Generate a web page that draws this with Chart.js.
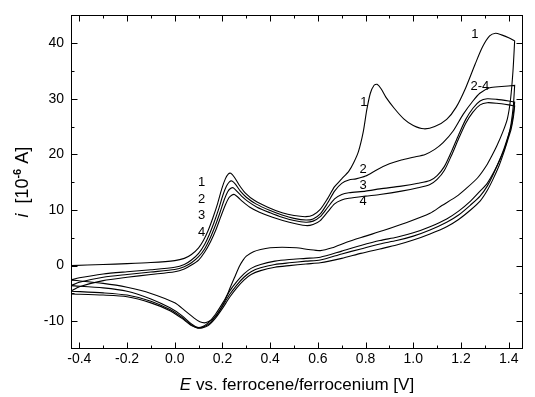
<!DOCTYPE html>
<html>
<head>
<meta charset="utf-8">
<script src="https://cdn.jsdelivr.net/npm/chart.js@4.4.0/dist/chart.umd.min.js"></script>
<style>
  html, body { margin: 0; padding: 0; background: #fff; }
  #wrap { width: 535px; height: 397px; }
</style>
</head>
<body>
<div id="wrap"><canvas id="cvChart" width="535" height="397"></canvas></div>
<script>
// potential (V vs Fc/Fc+) and current (10^-6 A)
const c1Fwd = [[-0.435,0.0],[-0.3,0.2],[-0.2,0.35],[-0.1,0.55],[0.0,0.9],[0.04,1.3],[0.07,2.0],[0.10,3.2],[0.12,4.5],[0.14,6.3],[0.16,8.6],[0.18,11.2],[0.197,13.8],[0.212,15.6],[0.225,16.5],[0.235,16.6],[0.25,15.9],[0.27,14.5],[0.295,13.1],[0.335,11.7],[0.39,10.5],[0.45,9.5],[0.50,9.0],[0.55,8.8],[0.58,9.1],[0.61,10.1],[0.64,12.0],[0.67,14.2],[0.70,15.6],[0.73,17.0],[0.75,18.5],[0.77,20.5],[0.79,24.0],[0.805,28.0],[0.82,31.0],[0.835,32.4],[0.848,32.6],[0.865,31.8],[0.885,30.3],[0.92,28.3],[0.96,26.4],[1.0,25.2],[1.045,24.6],[1.09,25.0],[1.14,26.3],[1.18,28.5],[1.22,32.0],[1.26,36.3],[1.29,39.3],[1.32,41.3],[1.345,41.8],[1.37,41.5],[1.40,41.0],[1.425,40.4]];
const c1Rev = [[1.425,40.4],[1.418,35],[1.408,30],[1.395,26.5],[1.375,24.0],[1.35,21.5],[1.33,19.8],[1.307,18.0],[1.27,15.8],[1.22,13.8],[1.18,12.4],[1.12,10.8],[1.07,9.4],[0.97,7.7],[0.874,6.3],[0.80,5.3],[0.72,4.2],[0.66,3.2],[0.61,2.7],[0.56,2.9],[0.51,3.2],[0.45,3.3],[0.40,3.2],[0.36,2.9],[0.33,2.5],[0.30,1.7],[0.285,0.9],[0.27,-0.2],[0.25,-2.2],[0.232,-4.0],[0.21,-6.3],[0.185,-8.3],[0.16,-9.6],[0.14,-10.1],[0.125,-10.3],[0.105,-10.1],[0.08,-9.4],[0.04,-8.0],[0.0,-6.7],[-0.1,-5.0],[-0.2,-3.9],[-0.3,-3.2],[-0.435,-2.6]];

const c2Fwd = [[-0.435,-2.6],[-0.4,-2.2],[-0.3,-1.5],[-0.2,-1.1],[-0.1,-0.75],[0.0,-0.3],[0.04,0.2],[0.07,1.0],[0.10,2.2],[0.125,3.8],[0.145,5.6],[0.165,7.8],[0.185,10.3],[0.202,12.7],[0.217,14.3],[0.23,15.1],[0.24,15.2],[0.255,14.6],[0.275,13.4],[0.30,12.3],[0.34,11.1],[0.40,9.9],[0.45,9.1],[0.50,8.5],[0.55,8.2],[0.58,8.4],[0.61,9.3],[0.64,11.2],[0.67,13.4],[0.70,14.8],[0.73,15.4],[0.76,15.6],[0.80,16.1],[0.85,17.3],[0.90,18.3],[0.95,19.0],[1.0,19.5],[1.05,20.0],[1.09,20.9],[1.125,22.1],[1.167,24.2],[1.209,27.2],[1.25,29.6],[1.279,31.0],[1.32,32.0],[1.37,32.2],[1.425,32.4]];
const c2Rev = [[1.425,32.4],[1.42,29],[1.41,25.5],[1.40,23.5],[1.385,21.3],[1.365,19.2],[1.34,17.0],[1.31,14.8],[1.28,13.4],[1.24,11.6],[1.19,9.8],[1.14,8.4],[1.07,7.0],[1.0,5.9],[0.93,5.1],[0.86,4.5],[0.78,3.6],[0.70,2.6],[0.61,1.5],[0.55,1.3],[0.48,1.1],[0.42,0.8],[0.36,0.2],[0.32,-0.5],[0.29,-1.5],[0.26,-2.9],[0.23,-4.6],[0.20,-6.8],[0.17,-8.8],[0.14,-10.3],[0.115,-11.0],[0.095,-11.1],[0.07,-10.5],[0.03,-9.0],[-0.02,-7.6],[-0.1,-6.0],[-0.2,-4.6],[-0.3,-4.0],[-0.435,-3.6]];

const c3Fwd = [[-0.435,-3.6],[-0.4,-3.0],[-0.3,-2.1],[-0.2,-1.6],[-0.1,-1.15],[0.0,-0.7],[0.04,-0.2],[0.07,0.5],[0.10,1.6],[0.125,3.0],[0.15,5.1],[0.17,7.2],[0.19,9.6],[0.207,11.8],[0.222,13.3],[0.235,13.9],[0.245,14.0],[0.26,13.4],[0.28,12.5],[0.305,11.6],[0.345,10.5],[0.40,9.5],[0.45,8.7],[0.50,8.1],[0.55,7.8],[0.58,8.0],[0.61,8.8],[0.64,10.4],[0.67,12.0],[0.70,12.8],[0.73,13.1],[0.80,13.4],[0.86,13.8],[0.95,14.3],[1.02,14.8],[1.07,15.3],[1.10,16.2],[1.13,17.8],[1.16,20.5],[1.19,23.5],[1.22,26.3],[1.25,28.3],[1.28,29.6],[1.31,30.0],[1.35,29.9],[1.40,29.6],[1.425,29.4]];
const c3Rev = [[1.425,29.4],[1.42,27.5],[1.41,25],[1.397,23.2],[1.38,21.0],[1.36,18.8],[1.335,16.4],[1.31,14.3],[1.28,12.5],[1.24,10.9],[1.19,9.1],[1.14,7.8],[1.07,6.4],[1.0,5.3],[0.93,4.5],[0.86,3.9],[0.78,3.0],[0.70,2.1],[0.61,1.0],[0.55,0.8],[0.48,0.5],[0.42,0.2],[0.36,-0.4],[0.32,-1.1],[0.29,-2.1],[0.26,-3.5],[0.23,-5.2],[0.20,-7.3],[0.17,-9.2],[0.14,-10.6],[0.115,-11.1],[0.095,-11.2],[0.07,-10.7],[0.03,-9.3],[-0.02,-7.9],[-0.1,-6.4],[-0.2,-5.3],[-0.3,-4.9],[-0.435,-4.6]];

const c4Fwd = [[-0.435,-4.6],[-0.4,-3.8],[-0.3,-2.7],[-0.2,-2.1],[-0.1,-1.6],[0.0,-1.1],[0.04,-0.6],[0.07,0.1],[0.10,1.0],[0.125,2.4],[0.15,4.3],[0.173,6.5],[0.193,8.8],[0.212,10.9],[0.227,12.2],[0.24,12.7],[0.25,12.8],[0.265,12.3],[0.285,11.5],[0.315,10.5],[0.355,9.6],[0.41,8.7],[0.48,7.8],[0.55,7.2],[0.58,7.4],[0.61,8.1],[0.64,9.6],[0.67,11.1],[0.70,11.8],[0.73,12.1],[0.80,12.5],[0.86,12.8],[0.95,13.4],[1.02,14.0],[1.07,14.6],[1.10,15.5],[1.13,17.1],[1.16,19.8],[1.19,22.8],[1.22,25.6],[1.25,27.6],[1.28,28.9],[1.31,29.3],[1.35,29.2],[1.40,28.9],[1.425,28.7]];
const c4Rev = [[1.425,28.7],[1.42,26.8],[1.41,24.5],[1.397,22.7],[1.38,20.4],[1.36,18.0],[1.335,15.6],[1.31,13.5],[1.28,11.6],[1.24,10.0],[1.19,8.3],[1.14,7.0],[1.07,5.7],[1.0,4.6],[0.93,3.7],[0.86,3.0],[0.78,2.2],[0.70,1.3],[0.61,0.5],[0.55,0.3],[0.48,0.0],[0.42,-0.3],[0.36,-0.9],[0.32,-1.6],[0.29,-2.6],[0.26,-4.0],[0.23,-5.7],[0.20,-7.7],[0.17,-9.5],[0.14,-10.8],[0.115,-11.2],[0.095,-11.2],[0.07,-10.8],[0.03,-9.5],[-0.02,-8.1],[-0.1,-6.7],[-0.2,-5.6],[-0.3,-5.3],[-0.435,-5.1]];

const xTicks = [-0.4, -0.2, 0.0, 0.2, 0.4, 0.6, 0.8, 1.0, 1.2, 1.4];
const yTicks = [-10, 0, 10, 20, 30, 40];

// cycle number labels, placed in data units
const noteText = ['1', '1', '2-4', '1', '2', '3', '4', '2', '3', '4'];
const noteE = [1.258, 0.793, 1.279, 0.113, 0.113, 0.113, 0.113, 0.79, 0.79, 0.79];
const noteI = [41.5, 29.3, 32.3, 14.9, 11.9, 9.0, 6.0, 17.3, 14.5, 11.5];

const FONT = '"Liberation Sans", Arial, sans-serif';

function toPts(fwd, rev) {
    return fwd.concat(rev).map(p => ({ x: p[0], y: p[1] }));
}

const cycles = [toPts(c1Fwd, c1Rev), toPts(c2Fwd, c2Rev), toPts(c3Fwd, c3Rev), toPts(c4Fwd, c4Rev)];

function drawRuns(ctx, runs, cx, baseY) {
    let total = 0;
    runs.forEach(r => { ctx.font = r.font; r.w = ctx.measureText(r.t).width; total += r.w; });
    let x = cx - total / 2;
    runs.forEach(r => {
        ctx.font = r.font;
        ctx.fillText(r.t, x, baseY + (r.dy || 0));
        x += r.w;
    });
}

const framePlugin = {
    id: 'frame',
    afterDraw(chart) {
        const { ctx, chartArea: a, scales } = chart;
        const sx = scales.x, sy = scales.y;
        ctx.save();
        ctx.strokeStyle = '#000';
        ctx.lineWidth = 1;
        const L = Math.round(a.left) + 0.5, R = Math.round(a.right) - 0.5;
        const T = Math.round(a.top) + 0.5, B = Math.round(a.bottom) - 0.5;
        ctx.strokeRect(L, T, R - L, B - T);

        ctx.beginPath();
        // x ticks, major + minor, bottom and top, pointing in
        for (let k = 0; k < xTicks.length; k++) {
            const px = Math.round(sx.getPixelForValue(xTicks[k])) + 0.5;
            ctx.moveTo(px, B); ctx.lineTo(px, B - 6);
            ctx.moveTo(px, T); ctx.lineTo(px, T + 6);
            if (k < xTicks.length - 1) {
                const mx = Math.round(sx.getPixelForValue((xTicks[k] + xTicks[k + 1]) / 2)) + 0.5;
                ctx.moveTo(mx, B); ctx.lineTo(mx, B - 3);
                ctx.moveTo(mx, T); ctx.lineTo(mx, T + 3);
            }
        }
        const yMinor = [-5, 5, 15, 25, 35];
        yTicks.forEach(v => {
            const py = Math.round(sy.getPixelForValue(v)) + 0.5;
            ctx.moveTo(L, py); ctx.lineTo(L + 6, py);
            ctx.moveTo(R, py); ctx.lineTo(R - 6, py);
        });
        yMinor.forEach(v => {
            const py = Math.round(sy.getPixelForValue(v)) + 0.5;
            ctx.moveTo(L, py); ctx.lineTo(L + 3, py);
            ctx.moveTo(R, py); ctx.lineTo(R - 3, py);
        });
        ctx.stroke();

        // cycle labels
        ctx.fillStyle = '#000';
        ctx.font = '13px ' + FONT;
        ctx.textAlign = 'center';
        ctx.textBaseline = 'middle';
        noteText.forEach((t, k) => {
            ctx.fillText(t, sx.getPixelForValue(noteE[k]), sy.getPixelForValue(noteI[k]));
        });

        // axis titles
        ctx.textAlign = 'left';
        ctx.textBaseline = 'alphabetic';
        const cx = (a.left + a.right) / 2;
        drawRuns(ctx, [
            { t: 'E', font: 'italic 17px ' + FONT },
            { t: ' vs. ferrocene/ferrocenium [V]', font: '17px ' + FONT }
        ], cx, 390);

        ctx.save();
        ctx.translate(28, (a.top + a.bottom) / 2);
        ctx.rotate(-Math.PI / 2);
        drawRuns(ctx, [
            { t: 'i', font: 'italic 18px ' + FONT },
            { t: '  [10', font: '18px ' + FONT },
            { t: '-6', font: 'bold 11px ' + FONT, dy: -7 },
            { t: ' A]', font: '18px ' + FONT }
        ], 0, 0);
        ctx.restore();

        ctx.restore();
    }
};

new Chart(document.getElementById('cvChart'), {
    type: 'scatter',
    data: {
        datasets: cycles.map((pts, k) => ({
            label: 'cycle ' + (k + 1),
            data: pts,
            showLine: true,
            borderColor: '#000',
            borderWidth: 1.1,
            pointRadius: 0,
            pointHoverRadius: 0,
            tension: 0.25,
            fill: false
        }))
    },
    options: {
        responsive: false,
        animation: false,
        devicePixelRatio: 1,
        layout: { padding: { top: 14, right: 12, left: 0, bottom: 0 } },
        plugins: { legend: { display: false }, tooltip: { enabled: false } },
        scales: {
            x: {
                type: 'linear',
                min: -0.435,
                max: 1.46,
                grid: { display: false, drawTicks: false },
                border: { display: false },
                afterBuildTicks: s => { s.ticks = xTicks.map(v => ({ value: v })); },
                afterFit: s => { s.height = 48; },
                ticks: {
                    padding: 2,
                    color: '#000',
                    font: { size: 14, family: FONT },
                    maxRotation: 0,
                    callback: v => Number(v).toFixed(1)
                }
            },
            y: {
                min: -15,
                max: 45,
                grid: { display: false, drawTicks: false },
                border: { display: false },
                afterBuildTicks: s => { s.ticks = yTicks.map(v => ({ value: v })); },
                afterFit: s => { s.width = 71; },
                ticks: {
                    padding: 7,
                    color: '#000',
                    font: { size: 14, family: FONT },
                    callback: v => String(v)
                }
            }
        }
    },
    plugins: [framePlugin]
});
</script>
</body>
</html>
